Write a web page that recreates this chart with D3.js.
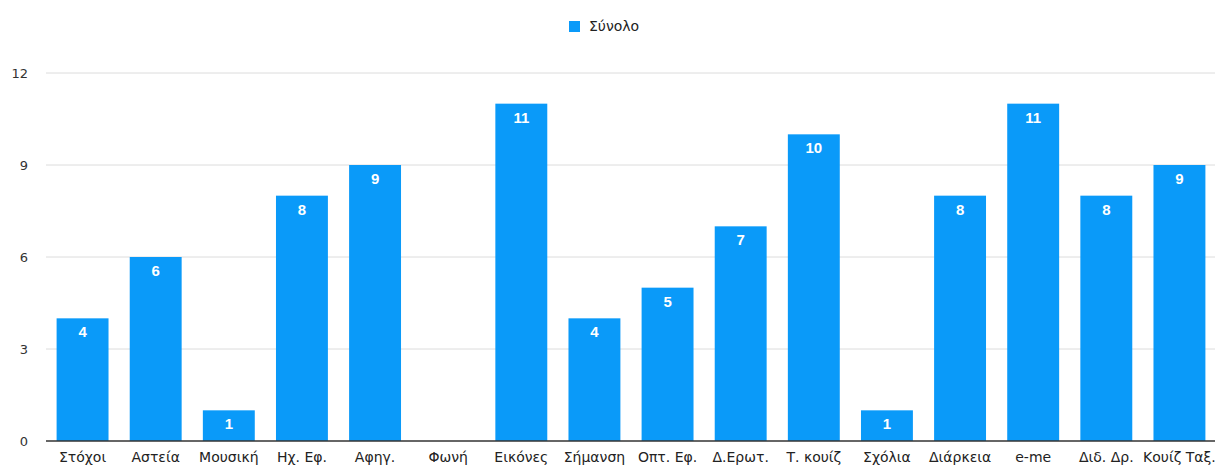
<!DOCTYPE html>
<html>
<head>
<meta charset="utf-8">
<script src="https://cdn.jsdelivr.net/npm/d3@7"></script>
<style>
  html, body { margin: 0; padding: 0; background: #fff; }
  svg { display: block; font-family: "DejaVu Sans", "Liberation Sans", Arial, sans-serif; }
</style>
</head>
<body>
<svg id="chart" width="1215" height="466"></svg>
<script>
// Categories and totals
const categories = ["Στόχοι", "Αστεία", "Μουσική", "Ηχ. Εφ.", "Αφηγ.", "Φωνή", "Εικόνες", "Σήμανση",
  "Οπτ. Εφ.", "Δ.Ερωτ.", "Τ. κουίζ", "Σχόλια", "Διάρκεια", "e-me", "Διδ. Δρ.", "Κουίζ Ταξ."];
const totals = [4, 6, 1, 8, 9, 0, 11, 4, 5, 7, 10, 1, 8, 11, 8, 9];
const yTicks = [0, 3, 6, 9, 12];
const seriesName = "Σύνολο";

const rows = categories.map((c, i) => ({ category: c, value: totals[i] }));

const svg = d3.select("#chart");
const W = 1215, H = 466;
const margin = { left: 46, right: -1, top: 73, bottom: 25 };
const barColor = "#0a9af9";

const x = d3.scaleBand()
  .domain(categories)
  .range([margin.left, W - margin.right])
  .paddingInner(0.29)
  .paddingOuter(0.145);

const y = d3.scaleLinear()
  .domain([0, 12])
  .range([H - margin.bottom, margin.top]);

// Horizontal gridlines
svg.append("g")
  .selectAll("line")
  .data(yTicks.filter(d => d !== 0))
  .join("line")
  .attr("x1", margin.left)
  .attr("x2", W)
  .attr("y1", d => y(d))
  .attr("y2", d => y(d))
  .attr("stroke", "#dcdcdc")
  .attr("stroke-width", 1);

// Y tick labels
svg.append("g")
  .selectAll("text")
  .data(yTicks)
  .join("text")
  .attr("x", 28)
  .attr("y", d => y(d))
  .attr("dy", "0.35em")
  .attr("text-anchor", "end")
  .attr("font-size", 13)
  .attr("fill", "#333")
  .text(d => d);

// Bars
svg.append("g")
  .selectAll("rect")
  .data(rows)
  .join("rect")
  .attr("x", d => x(d.category))
  .attr("y", d => y(d.value))
  .attr("width", x.bandwidth())
  .attr("height", d => y(0) - y(d.value))
  .attr("fill", barColor);

// Value labels inside bars (empty bars get none)
svg.append("g")
  .selectAll("text")
  .data(rows.filter(d => d.value > 0))
  .join("text")
  .attr("x", d => x(d.category) + x.bandwidth() / 2)
  .attr("y", d => y(d.value) + 19)
  .attr("text-anchor", "middle")
  .attr("font-family", "Liberation Sans, Arial, sans-serif")
  .attr("font-size", 15)
  .attr("font-weight", "bold")
  .attr("fill", "#fff")
  .text(d => d.value);

// Baseline
svg.append("line")
  .attr("x1", margin.left)
  .attr("x2", W)
  .attr("y1", y(0))
  .attr("y2", y(0))
  .attr("stroke", "#333")
  .attr("stroke-width", 1.5);

// Category labels
svg.append("g")
  .selectAll("text")
  .data(categories)
  .join("text")
  .attr("x", d => x(d) + x.bandwidth() / 2)
  .attr("y", 462)
  .attr("text-anchor", "middle")
  .attr("font-size", 14)
  .attr("fill", "#222")
  .text(d => d);

// Legend
const legend = svg.append("g").attr("transform", "translate(569,21)");
legend.append("rect")
  .attr("width", 11)
  .attr("height", 11)
  .attr("fill", barColor);
legend.append("text")
  .attr("x", 20)
  .attr("y", 5.5)
  .attr("dy", "0.35em")
  .attr("font-size", 14)
  .attr("fill", "#222")
  .text(seriesName);
</script>
</body>
</html>
